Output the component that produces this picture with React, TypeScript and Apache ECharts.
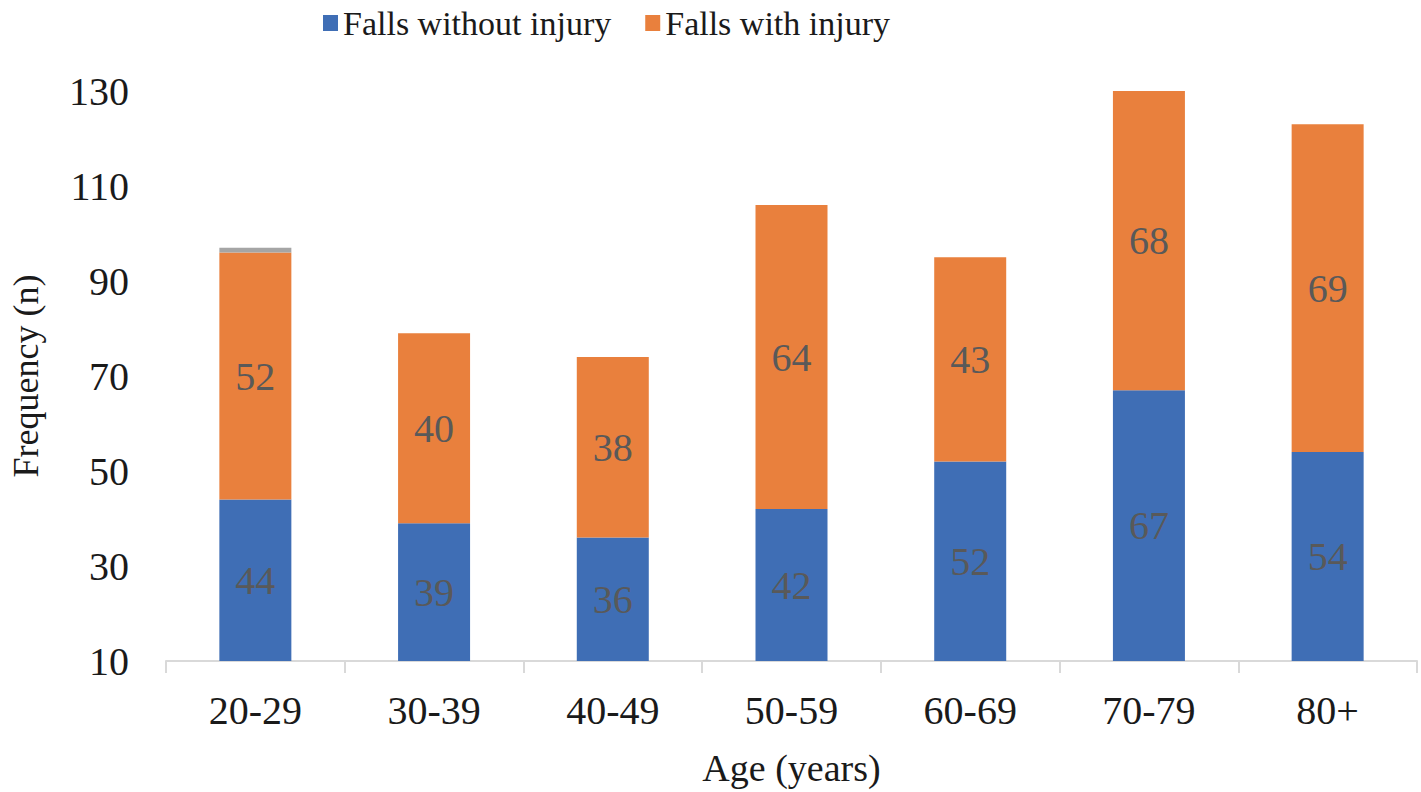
import React, { useEffect, useRef } from "react";
import * as echarts from "echarts";

const categories = ["20-29", "30-39", "40-49", "50-59", "60-69", "70-79", "80+"];
const fallsWithoutInjury = [44, 39, 36, 42, 52, 67, 54];
const fallsWithInjury = [52, 40, 38, 64, 43, 68, 69];
const unknown = [1, 0, 0, 0, 0, 0, 0];
const yTicks = { min: 10, max: 130, interval: 20 };

const FONT = "'Liberation Serif', 'Times New Roman', serif";

export default function App() {
  const ref = useRef<HTMLDivElement>(null);
  useEffect(() => {
    if (!ref.current) return;
    const chart = echarts.init(ref.current, undefined, { renderer: "svg" });
    const labelStyle = {
      show: true,
      position: "inside" as const,
      color: "#595959",
      fontSize: 40,
      fontFamily: FONT,
    };
    chart.setOption({
      animation: false,
      backgroundColor: "#ffffff",
      textStyle: { fontFamily: FONT },
      legend: {
        data: ["Falls without injury", "Falls with injury"],
        left: 318,
        top: 1,
        icon: "rect",
        itemWidth: 15,
        itemHeight: 16,
        itemGap: 34,
        textStyle: { fontSize: 34, color: "#1a1a1a", fontFamily: FONT },
      },
      grid: { left: 160, right: 4, top: 91, bottom: 129, containLabel: false },
      xAxis: {
        type: "category",
        data: categories,
        name: "Age (years)",
        nameLocation: "middle",
        nameGap: 88,
        nameTextStyle: { fontSize: 38, color: "#1a1a1a", fontFamily: FONT },
        axisLine: { show: true, lineStyle: { color: "#d9d9d9", width: 2 } },
        axisTick: { show: true, length: 12, lineStyle: { color: "#d9d9d9", width: 2 } },
        axisLabel: { fontSize: 40, color: "#1a1a1a", margin: 29, fontFamily: FONT },
      },
      yAxis: {
        type: "value",
        min: yTicks.min,
        max: yTicks.max,
        interval: yTicks.interval,
        name: "Frequency (n)",
        nameLocation: "middle",
        nameGap: 122,
        nameTextStyle: { fontSize: 36, color: "#1a1a1a", fontFamily: FONT },
        axisLine: { show: false },
        axisTick: { show: false },
        splitLine: { show: false },
        axisLabel: { fontSize: 40, color: "#1a1a1a", margin: 37, fontFamily: FONT },
      },
      series: [
        {
          name: "Falls without injury",
          type: "bar",
          stack: "total",
          barWidth: 72,
          data: fallsWithoutInjury,
          itemStyle: { color: "#3F6EB5" },
          label: labelStyle,
        },
        {
          name: "Falls with injury",
          type: "bar",
          stack: "total",
          barWidth: 72,
          data: fallsWithInjury,
          itemStyle: { color: "#E9803D" },
          label: labelStyle,
        },
        {
          name: "Unknown",
          type: "bar",
          stack: "total",
          barWidth: 72,
          data: unknown,
          itemStyle: { color: "#A5A5A5" },
          label: { show: false },
        },
      ],
    });
    return () => chart.dispose();
  }, []);
  return (
    <div
      ref={ref}
      style={{ position: "fixed", left: 0, top: 0, width: 1421, height: 792, background: "#fff" }}
    />
  );
}
